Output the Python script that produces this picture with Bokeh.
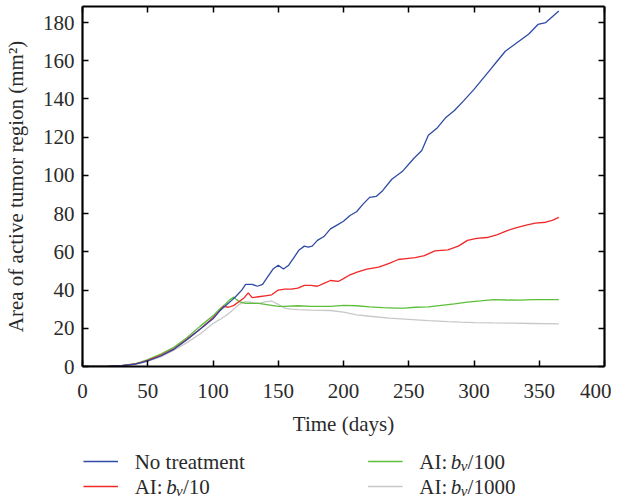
from bokeh.plotting import figure
from bokeh.layouts import column
from bokeh.models import LinearAxis, FixedTicker, Range1d
from bokeh.core.properties import value
from bokeh.embed import file_html
from bokeh.resources import INLINE

# ---- data ----
days_blue = [0, 20, 30, 40, 45, 50, 60, 70, 80, 90, 100, 105, 110, 115, 118, 122, 125, 130, 134, 138, 142, 146,
             150, 154, 158, 162, 166, 170, 173, 176, 180, 185, 190, 195, 200, 205, 210, 215, 220, 225, 230,
             237, 245, 254, 260, 265, 272, 278, 285, 292, 300, 306, 312, 318, 324, 330, 336, 342, 349, 355, 360, 365]
vals_blue = [0, 0.2, 0.5, 1.2, 2, 3, 5.5, 9, 14, 19.5, 25, 29, 32, 35, 37, 40, 43, 43, 42, 43, 47, 51,
             53, 51, 53, 57, 61, 63, 62.5, 63, 66, 68, 72, 74, 76, 79, 81, 85, 88.5, 89, 92,
             98, 102, 109, 113, 121, 125, 130, 134, 139, 145, 150, 155, 160, 165, 168, 171, 174, 179, 180, 183, 186]

days_red = [0, 20, 30, 40, 45, 50, 60, 70, 80, 90, 100, 105, 108, 112, 116, 120, 124, 127, 130, 135, 140, 145,
            150, 155, 160, 165, 170, 175, 180, 185, 190, 196, 200, 205, 211, 218, 227, 235, 242, 248, 255, 262,
            270, 280, 288, 295, 302, 310, 318, 325, 332, 340, 347, 355, 360, 365]
vals_red = [0, 0.2, 0.5, 1.3, 2.2, 3.2, 5.8, 9.2, 14.2, 19.5, 25.5, 29, 31.5, 31, 32, 34, 36, 38.5, 36, 36.5, 37, 37.5,
            40, 40.5, 40.5, 41, 42.5, 42.5, 42, 43.5, 45, 44.5, 46, 48, 49.5, 51, 52, 54, 56, 56.5, 57, 58,
            60.5, 61, 63, 66, 67, 67.5, 69, 71, 72.5, 74, 75, 75.5, 76.5, 78]

days_green = [0, 20, 30, 40, 45, 50, 60, 70, 80, 90, 100, 105, 110, 113, 116, 118, 120, 125, 130, 135, 140, 145,
              150, 155, 165, 175, 190, 200, 210, 220, 230, 240, 247, 255, 265, 275, 285, 295, 305, 315, 325,
              335, 345, 355, 365]
vals_green = [0, 0.2, 0.5, 1.4, 2.4, 3.6, 6.5, 10, 15, 21, 26.5, 30, 33, 35, 36.3, 35, 34, 33, 33, 33, 32.5, 32,
              31.5, 31.5, 31.8, 31.5, 31.5, 32, 31.8, 31.2, 30.8, 30.5, 30.5, 31, 31.2, 32, 32.8, 33.7, 34.3, 35, 34.8,
              34.7, 35, 35, 35]

days_gray = [0, 20, 30, 40, 45, 50, 60, 70, 80, 90, 100, 105, 110, 115, 120, 125, 130, 135, 140, 145, 150, 155,
             160, 165, 175, 190, 200, 210, 220, 235, 250, 265, 280, 290, 300, 315, 330, 345, 365]
vals_gray = [0, 0.2, 0.4, 1.0, 1.8, 2.8, 5, 8.5, 12.5, 17, 22.5, 24.5, 26.7, 29.5, 32.5, 34, 33.5, 33, 33.8, 34.3, 32.5, 30.5,
             30, 29.8, 29.5, 29.3, 28.5, 27, 26.3, 25.3, 24.7, 24, 23.5, 23.2, 23, 22.8, 22.7, 22.5, 22.3]

x_ticks = [0, 50, 100, 150, 200, 250, 300, 350, 400]
y_ticks = [0, 20, 40, 60, 80, 100, 120, 140, 160, 180]

series_names = ["No treatment", "AI:", "AI:", "AI:"]
series_suffix = ["", "/10", "/100", "/1000"]
colors = ["#2f4aa5", "#f02828", "#5cbf3a", "#c8c8c8"]

FONT = "Liberation Serif"
TXT = "#2a2a2a"

p = figure(width=611, height=440, output_backend="svg", toolbar_location=None,
           x_range=Range1d(0, 400), y_range=Range1d(0, 188.4),
           min_border_left=74, min_border_right=7, min_border_top=6, min_border_bottom=74,
           x_axis_label="Time (days)", y_axis_label="Area of active tumor region (mm²)")
p.grid.visible = False
p.outline_line_color = None

# gray first so that it lies beneath the others
for xs, ys, c in zip([days_gray, days_green, days_red, days_blue],
                     [vals_gray, vals_green, vals_red, vals_blue], colors[::-1]):
    p.line(xs, ys, line_color=c, line_width=1.3)

def style_axis(ax, labels=True):
    ax.axis_line_width = 2.2
    ax.axis_line_color = "black"
    ax.major_tick_in = 6
    ax.major_tick_out = 0
    ax.major_tick_line_width = 1.5
    ax.minor_tick_line_color = None
    ax.major_label_text_font = FONT
    ax.major_label_text_color = TXT
    ax.axis_label_text_font = FONT
    ax.axis_label_text_color = TXT
    ax.axis_label_text_font_style = "normal"
    ax.axis_label_text_font_size = "21px"
    ax.major_label_text_font_size = "21px"
    ax.major_label_standoff = 10 if labels else 0

for ax in p.xaxis:
    ax.ticker = FixedTicker(ticks=x_ticks)
    style_axis(ax)
    ax.major_label_standoff = 17
    ax.axis_label_standoff = 11
for ax in p.yaxis:
    ax.ticker = FixedTicker(ticks=y_ticks)
    style_axis(ax)
    ax.major_label_standoff = 8
    ax.axis_label_standoff = 12

top = LinearAxis(ticker=FixedTicker(ticks=x_ticks))
style_axis(top, labels=False)
top.major_label_overrides = {t: "" for t in x_ticks}
p.add_layout(top, "above")
right = LinearAxis(ticker=FixedTicker(ticks=y_ticks))
style_axis(right, labels=False)
right.major_label_overrides = {t: "" for t in y_ticks}
p.add_layout(right, "right")

# ---- legend panel (coordinates are panel pixels) ----
lg = figure(width=611, height=60, output_backend="svg", toolbar_location=None,
            x_range=Range1d(74, 604), y_range=Range1d(60, 0),
            min_border_left=74, min_border_right=7, min_border_top=0, min_border_bottom=0)
lg.axis.visible = False
lg.grid.visible = False
lg.outline_line_color = None

col_line_x = [75, 75, 364, 364]
row_y = [21, 46, 21, 46]
for i in range(4):
    x0 = col_line_x[i]
    y0 = row_y[i]
    lg.line([x0, x0 + 35], [y0, y0], line_color=colors[i], line_width=1.5)
    tx = x0 + 52
    lg.text([tx], [y0], text=[series_names[i]], text_font=value(FONT), text_font_size="21px",
            text_color=TXT, text_baseline="middle")
    if series_suffix[i]:
        lg.text([tx + 32], [y0], text=["b"], text_font=value(FONT), text_font_size="21px",
                text_font_style="italic", text_color=TXT, text_baseline="middle")
        lg.text([tx + 42], [y0 + 4], text=["v"], text_font=value(FONT), text_font_size="15px",
                text_font_style="italic", text_color=TXT, text_baseline="middle")
        lg.text([tx + 49], [y0], text=[series_suffix[i]], text_font=value(FONT), text_font_size="21px",
                text_color=TXT, text_baseline="middle")

layout = column(p, lg, spacing=0)
open("out.html", "w").write(file_html(layout, INLINE))
